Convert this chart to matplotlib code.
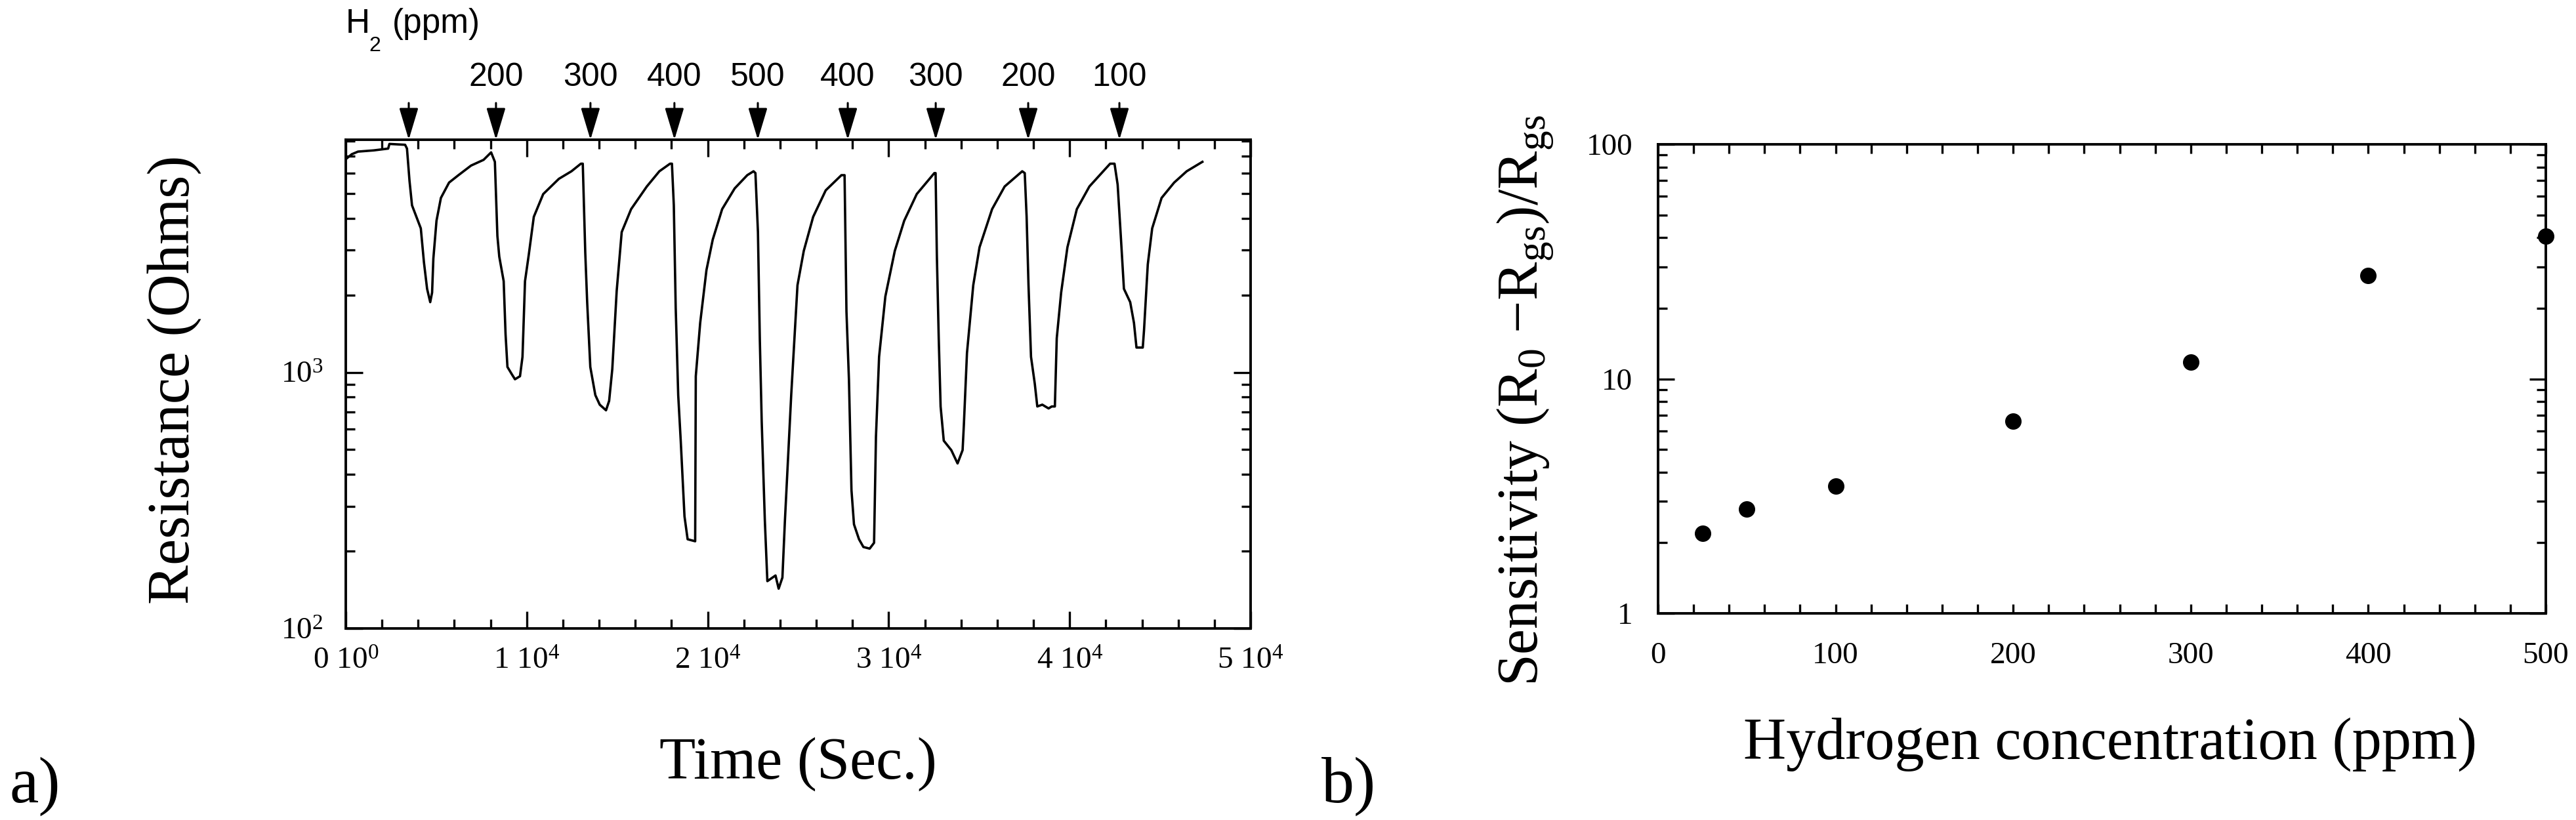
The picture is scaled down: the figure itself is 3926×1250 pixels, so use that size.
import matplotlib
matplotlib.use("Agg")
import matplotlib.pyplot as plt
from matplotlib.ticker import FixedLocator, FixedFormatter, NullFormatter

plt.rcParams['font.family'] = ['Liberation Serif', 'DejaVu Serif']
plt.rcParams['mathtext.fontset'] = 'custom'
plt.rcParams['mathtext.rm'] = 'Liberation Serif'
plt.rcParams['mathtext.it'] = 'Liberation Serif:italic'

# a) resistance trace
time_s = [0, 330, 676, 1544, 2342, 2411, 3278, 3382, 3521, 3660, 3903, 4146, 4319, 4493, 4666,
          4770, 4839, 5013, 5256, 5707, 6227, 6921, 7615, 8031,
          8239, 8378, 8482, 8725, 8829, 8933, 9176, 9349, 9627, 9765,
          9904, 10112, 10390, 10910, 11777, 12471, 12992,
          13096, 13234, 13339, 13512, 13790, 14033, 14380, 14553,
          14727, 14970, 15247, 15768, 16635, 17329, 17919,
          18023, 18127, 18231, 18370, 18509, 18717, 18890, 19307,
          19341, 19584, 19931, 20278, 20798, 21492, 22186, 22533,
          22637, 22776, 22880, 22984, 23157, 23296, 23747, 23920, 24128,
          24267, 24614, 24961, 25308, 25828, 26522, 27389,
          27563, 27667, 27805, 27944, 28083, 28361, 28603, 28950, 29193,
          29297, 29470, 29817, 30338, 30858, 31552, 32523,
          32593, 32662, 32766, 32870, 33044, 33460, 33807, 34085,
          34154, 34327, 34674, 35021, 35715, 36409, 37380,
          37519, 37623, 37727, 37866, 38074, 38213, 38490, 38837, 39011, 39184,
          39288, 39531, 39878, 40398, 41092, 42237,
          42480, 42653, 42827, 43000, 43347, 43555, 43694, 44041,
          44110, 44318, 44561, 45081, 45775, 46469, 47336]
resistance_ohm = [6800, 7110, 7280, 7360, 7480, 7800, 7740, 7480, 5600, 4490, 4050, 3650, 2690, 2120, 1880,
                  2050, 2780, 3910, 4800, 5510, 5890, 6420, 6760, 7230,
                  6640, 3410, 2830, 2270, 1410, 1050, 983, 940, 966, 1150,
                  2270, 2880, 4050, 4970, 5700, 6100, 6530,
                  6530, 2930, 1880, 1050, 815, 748, 711, 774,
                  1030, 2080, 3530, 4340, 5320, 6100, 6530,
                  6530, 4490, 1790, 815, 541, 274, 223, 219,
                  966, 1560, 2510, 3300, 4340, 5230, 5890, 6100,
                  6000, 3530, 1340, 642, 264, 153, 161, 143, 158,
                  264, 815, 2190, 2980, 4050, 5140, 5890,
                  5890, 1730, 934, 347, 255, 223, 208, 205, 216,
                  560, 1150, 1980, 2980, 3910, 4970, 6000,
                  6000, 2880, 1360, 736, 541, 497, 441, 497,
                  621, 1190, 2190, 3080, 4340, 5320, 6100,
                  6000, 4050, 2190, 1150, 903, 736, 748, 723, 736, 736,
                  1360, 2050, 3080, 4340, 5320, 6530,
                  6530, 5410, 3410, 2120, 1880, 1560, 1250, 1250,
                  1460, 2640, 3650, 4800, 5510, 6100, 6640]

# gas pulses marked by arrows
pulse_time_s = [3480, 8300, 13520, 18160, 22770, 27740, 32600, 37710, 42750]
pulse_labels = ['', '200', '300', '400', '500', '400', '300', '200', '100']

# b) sensitivity vs concentration
h2_ppm = [25, 50, 100, 200, 300, 400, 500]
sensitivity = [2.2, 2.79, 3.49, 6.6, 11.8, 27.6, 40.5]

W, H = 3926, 1250
fig = plt.figure(figsize=(W / 100, H / 100), dpi=100)

ax1 = fig.add_axes([527 / W, 1 - 958 / H, (1906 - 527) / W, (958 - 213) / H])
ax2 = fig.add_axes([2527 / W, 1 - 935 / H, (3880 - 2527) / W, (935 - 220) / H])

for ax in (ax1, ax2):
    for s in ax.spines.values():
        s.set_linewidth(2.8)

# panel a
ax1.plot(time_s, resistance_ohm, color='black', lw=2.6)
ax1.set_yscale('log')
ax1.set_xlim(0, 50000)
ax1.set_ylim(100, 8100)
ax1.xaxis.set_major_locator(FixedLocator([0, 10000, 20000, 30000, 40000, 50000]))
ax1.xaxis.set_major_formatter(FixedFormatter([r'0 10$^{0}$', r'1 10$^{4}$', r'2 10$^{4}$',
                                              r'3 10$^{4}$', r'4 10$^{4}$', r'5 10$^{4}$']))
ax1.xaxis.set_minor_locator(FixedLocator(list(range(2000, 50000, 2000))))
ax1.yaxis.set_major_locator(FixedLocator([100, 1000]))
ax1.yaxis.set_major_formatter(FixedFormatter([r'10$^{2}$', r'10$^{3}$']))
ax1.yaxis.set_minor_locator(FixedLocator([200, 300, 400, 500, 600, 700, 800, 900,
                                          2000, 3000, 4000, 5000, 6000, 7000, 8000]))
ax1.yaxis.set_minor_formatter(NullFormatter())
ax1.tick_params(which='both', direction='in', top=True, right=True, width=2.4, labelsize=34)
ax1.tick_params(which='major', length=19)
ax1.tick_params(which='minor', length=10)
ax1.tick_params(axis='x', pad=21)
ax1.tick_params(axis='y', pad=25)

for t, lab in zip(pulse_time_s, pulse_labels):
    ax1.annotate('', xy=(t, 1.0), xycoords=('data', 'axes fraction'),
                 xytext=(t, 1.0 + 56 / 745), textcoords=('data', 'axes fraction'),
                 arrowprops=dict(arrowstyle='-|>,head_length=1.5,head_width=0.45',
                                 mutation_scale=20, color='black', lw=2.2,
                                 shrinkA=0, shrinkB=0), annotation_clip=False)
    if lab:
        ax1.text(t, (958 - 118) / 745, lab, transform=ax1.get_xaxis_transform(),
                 ha='center', va='center', fontsize=36, family='Liberation Sans')

fig.text(527 / W, 1 - 50 / H, 'H', fontsize=37, family='Liberation Sans', va='baseline')
fig.text(562 / W, 1 - 78 / H, '2', fontsize=23, family='Liberation Sans', va='baseline')
fig.text(598 / W, 1 - 50 / H, '(ppm)', fontsize=37, family='Liberation Sans', va='baseline')

fig.text(288 / W, 1 - 579 / H, 'Resistance (Ohms)', rotation=90, rotation_mode='anchor',
         ha='center', va='baseline', fontsize=65)
fig.text(1216 / W, 1 - 1187 / H, 'Time (Sec.)', ha='center', va='baseline', fontsize=65)
fig.text(15 / W, 1 - 1223 / H, 'a)', ha='left', va='baseline', fontsize=72)

# panel b
ax2.plot(h2_ppm, sensitivity, 'o', color='black', markersize=17, clip_on=False)
ax2.set_yscale('log')
ax2.set_xlim(0, 500)
ax2.set_ylim(1, 100)
ax2.xaxis.set_major_locator(FixedLocator([0, 100, 200, 300, 400, 500]))
ax2.xaxis.set_minor_locator(FixedLocator([v for v in range(20, 500, 20) if v % 100]))
ax2.yaxis.set_major_locator(FixedLocator([1, 10, 100]))
ax2.yaxis.set_major_formatter(FixedFormatter(['1', '10', '100']))
ax2.yaxis.set_minor_locator(FixedLocator([2, 3, 4, 5, 6, 7, 8, 9, 20, 30, 40, 50, 60, 70, 80, 90]))
ax2.yaxis.set_minor_formatter(NullFormatter())
ax2.tick_params(which='both', direction='in', top=True, right=True, width=2.4, labelsize=34)
ax2.tick_params(axis='x', which='both', length=10, pad=31)
ax2.tick_params(axis='y', which='major', length=18)
ax2.tick_params(axis='y', which='minor', length=10)
ax2.tick_params(axis='y', pad=28)

fig.text(2343 / W, 1 - 611 / H, r'Sensitivity (R$_{0}$ $-$R$_{\mathrm{gs}}$)/R$_{\mathrm{gs}}$',
         rotation=90, rotation_mode='anchor', ha='center', va='baseline', fontsize=63)
fig.text(3216 / W, 1 - 1157 / H, 'Hydrogen concentration (ppm)', ha='center', va='baseline', fontsize=65)
fig.text(2014 / W, 1 - 1223 / H, 'b)', ha='left', va='baseline', fontsize=72)

fig.savefig('out.png', dpi=100)
